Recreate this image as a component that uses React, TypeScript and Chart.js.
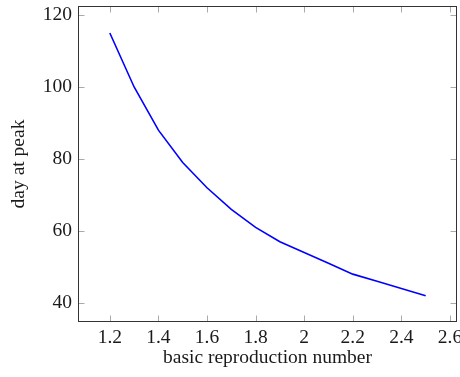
import React, { useEffect, useRef } from "react";
import { Chart, registerables } from "chart.js";

Chart.register(...registerables);

const r0Values = [1.2, 1.3, 1.4, 1.5, 1.6, 1.7, 1.8, 1.9, 2.0, 2.1, 2.2, 2.3, 2.4, 2.5];
const peakDays = [115, 100, 88, 79, 72, 66, 61, 57, 54, 51, 48, 46, 44, 42];
const xTicks = [1.2, 1.4, 1.6, 1.8, 2.0, 2.2, 2.4, 2.6];
const yTicks = [40, 60, 80, 100, 120];
const xLabel = "basic reproduction number";
const yLabel = "day at peak";

const FONT = "'Liberation Serif', 'DejaVu Serif', serif";
const FS = 19.5;

const frameAndTicks = {
  id: "frameAndTicks",
  afterDraw(chart: any) {
    const { ctx, chartArea: a, scales } = chart;
    const xs = scales.x;
    const ys = scales.y;
    const L = Math.round(a.left) + 0.5;
    const R = Math.round(a.right) - 0.5;
    const T = Math.round(a.top) + 0.5;
    const B = Math.round(a.bottom) - 0.5;
    const len = 6;
    ctx.save();
    ctx.strokeStyle = "#aaaaaa";
    ctx.lineWidth = 1;
    ctx.beginPath();
    xTicks.forEach((v) => {
      const px = Math.round(xs.getPixelForValue(v)) + 0.5;
      ctx.moveTo(px, B);
      ctx.lineTo(px, B - len);
      ctx.moveTo(px, T);
      ctx.lineTo(px, T + len);
    });
    yTicks.forEach((v) => {
      const py = Math.round(ys.getPixelForValue(v)) + 0.5;
      ctx.moveTo(L, py);
      ctx.lineTo(L + len, py);
      ctx.moveTo(R, py);
      ctx.lineTo(R - len, py);
    });
    ctx.stroke();
    ctx.strokeStyle = "#333333";
    ctx.lineWidth = 1;
    ctx.strokeRect(L, T, R - L, B - T);
    ctx.restore();
  },
};

export default function App() {
  const ref = useRef<HTMLCanvasElement | null>(null);
  useEffect(() => {
    if (!ref.current) return;
    const chart = new Chart(ref.current, {
      type: "line",
      data: {
        datasets: [
          {
            data: r0Values.map((x, i) => ({ x, y: peakDays[i] })),
            borderColor: "#0000ff",
            borderWidth: 1.6,
            pointRadius: 0,
            fill: false,
            tension: 0,
          },
        ],
      },
      options: {
        responsive: false,
        animation: false,
        events: [],
        layout: { padding: { left: 0, right: 3, top: 6, bottom: 0 } },
        plugins: { legend: { display: false }, tooltip: { enabled: false } },
        scales: {
          x: {
            type: "linear",
            min: 1.069,
            max: 2.629,
            grid: { display: false, drawTicks: false, tickLength: 0 },
            border: { display: false },
            afterBuildTicks: (s: any) => {
              s.ticks = xTicks.map((value) => ({ value }));
            },
            afterFit: (s: any) => {
              s.height = 55;
              s.paddingLeft = 0;
              s.paddingRight = 0;
            },
            ticks: {
              autoSkip: false,
              maxRotation: 0,
              padding: 4,
              color: "#1a1a1a",
              font: { family: FONT, size: FS },
              callback: (v: any) => String(+Number(v).toFixed(1)),
            },
            title: {
              display: true,
              text: xLabel,
              color: "#1a1a1a",
              font: { family: FONT, size: FS },
              padding: { top: 0, bottom: 7.5 },
            },
          },
          y: {
            type: "linear",
            min: 34.7,
            max: 122.5,
            grid: { display: false, drawTicks: false, tickLength: 0 },
            border: { display: false },
            afterBuildTicks: (s: any) => {
              s.ticks = yTicks.map((value) => ({ value }));
            },
            afterFit: (s: any) => {
              s.width = 78;
              s.paddingTop = 0;
              s.paddingBottom = 0;
            },
            ticks: {
              autoSkip: false,
              padding: 6,
              color: "#1a1a1a",
              font: { family: FONT, size: FS },
            },
            title: {
              display: true,
              text: yLabel,
              color: "#1a1a1a",
              font: { family: FONT, size: FS },
              padding: { top: 7.5, bottom: 0 },
            },
          },
        },
      },
      plugins: [frameAndTicks],
    });
    return () => chart.destroy();
  }, []);
  return (
    <div style={{ position: "fixed", left: 0, top: 0, width: 460, height: 377, background: "#fff" }}>
      <canvas ref={ref} width={460} height={377} style={{ display: "block" }} />
    </div>
  );
}
